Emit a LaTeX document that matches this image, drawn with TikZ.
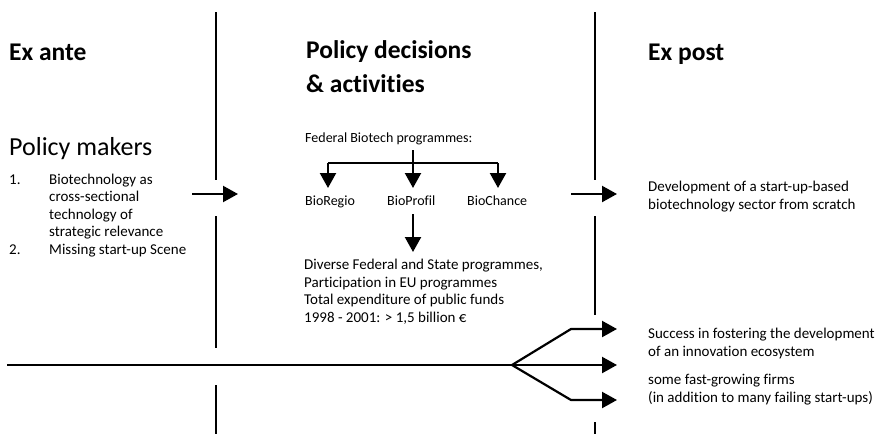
\documentclass[tikz,border=0pt]{standalone}
\usepackage{fontspec}
\setmainfont{Carlito}[Ligatures={NoCommon}]
\usetikzlibrary{arrows.meta}
\begin{document}
\begin{tikzpicture}[x=1pt,y=-1pt,
  rule/.style={line width=2.2pt},
  arr/.style={line width=2.2pt,-{Triangle[length=15pt,width=16pt]}},
  body/.style={font=\fontsize{15}{18}\selectfont, anchor=base west, inner sep=0pt},
  small/.style={font=\fontsize{14}{16}\selectfont, anchor=base west, inner sep=0pt},
  head/.style={font=\fontsize{25.5}{33}\selectfont\bfseries, anchor=base west, inner sep=0pt},
  big/.style={font=\fontsize{26}{33}\selectfont, anchor=base west, inner sep=0pt}]
\useasboundingbox (0,0) rectangle (883,434);

% headings
\node[head] (h1) at (9,60) {Ex ante};
\node[head] (h2a) at (306,58) {Policy decisions};
\node[head] (h2b) at (306,92) {\& activities};
\node[head] (h3) at (648,60) {Ex post};

% left column
\node[big] (pm) at (9,155) {Policy makers};
\node[body] (n1) at (9,184) {1.};
\node[body] (l1) at (49,184) {Biotechnology as};
\node[body] (l2) at (49,201.5) {cross-sectional};
\node[body] (l3) at (49,219) {technology of};
\node[body] (l4) at (49,236.5) {strategic relevance};
\node[body] (n2) at (9,254) {2.};
\node[body] (l5) at (49,254) {Missing start-up Scene};

% middle column
\node[small] (fed) at (305,142) {Federal Biotech programmes:};
\node[small] (breg) at (305,205) {BioRegio};
\node[small] (bprof) at (387,205) {BioProfil};
\node[small] (bch) at (467,205) {BioChance};
\node[body] (d1) at (304,269) {Diverse Federal and State programmes,};
\node[body] (d2) at (304,287) {Participation in EU programmes};
\node[body] (d3) at (304,304.5) {Total expenditure of public funds};
\node[body] (d4) at (304,322.5) {1998 - 2001: > 1,5 billion €};

% right column
\node[body] (r1) at (648,191) {Development of a start-up-based};
\node[body] (r2) at (648,209) {biotechnology sector from scratch};
\node[body] (s1) at (648,338) {Success in fostering the development};
\node[body] (s2) at (648,356) {of an innovation ecosystem};
\node[body] (s3) at (648,384) {some fast-growing firms};
\node[body] (s4) at (648,402) {(in addition to many failing start-ups)};

% separator lines
\draw[rule] (216,12) -- (216,180);
\draw[rule] (216,216) -- (216,348);
\draw[rule] (216,385) -- (216,434);
\draw[rule] (595,12) -- (595,180);
\draw[rule] (595,216) -- (595,315);
\draw[rule] (595,422) -- (595,434);

% main arrows
\coordinate (a1s) at (192,194);
\coordinate (a1e) at (238,194);
\coordinate (a2s) at (571,194);
\coordinate (a2e) at (617,194);
\draw[arr] (a1s) -- (a1e);
\draw[arr] (a2s) -- (a2e);

% programme tree
\coordinate (t0) at (413,150);
\coordinate (tm) at (413,163);
\coordinate (tl) at (328,163);
\coordinate (tr) at (498,163);
\draw[rule] (t0) -- (tm);
\draw[rule] (tl) -- (tr);
\draw[arr] (tl) -- (328,188);
\draw[arr] (tm) -- (413,188);
\draw[arr] (tr) -- (498,188);
\coordinate (ps) at (413,214);
\coordinate (pe) at (413,252);
\draw[arr] (ps) -- (pe);

% bottom timeline with branches
\coordinate (b0) at (7,365);
\coordinate (bp) at (512,365);
\coordinate (bu) at (571,329);
\coordinate (bl) at (571,400);
\draw[rule] (b0) -- (bp);
\draw[arr] (bp) -- (bu) -- (617,329);
\draw[arr] (bp) -- (617,365);
\draw[arr] (bp) -- (bl) -- (617,400);
\end{tikzpicture}
\end{document}
